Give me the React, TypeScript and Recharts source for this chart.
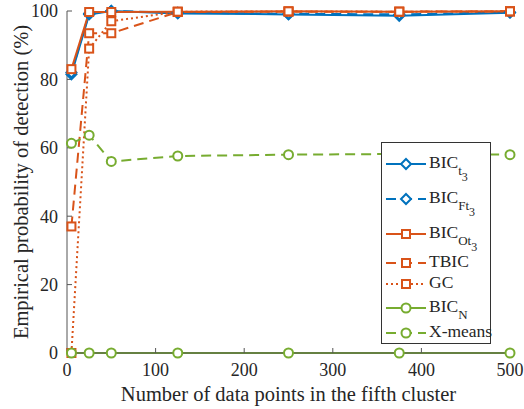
import React from 'react';
import { LineChart, Line, XAxis, YAxis } from 'recharts';

const xs = [5, 25, 50, 125, 250, 375, 500];
const bicT3 = [81.5, 99, 100, 99.3, 99, 98.6, 99.5];
const bicFt3 = [82, 99.3, 100, 99.5, 99.2, 99, 99.6];
const bicOt3 = [83, 99.7, 99.7, 99.8, 99.9, 99.8, 99.9];
const tbic = [37, 93.5, 93.5, 99.7, 99.8, 99.8, 99.9];
const gc = [0, 89, 97, 99.8, 99.9, 99.8, 99.9];
const bicN = [0, 0, 0, 0, 0, 0, 0];
const xMeans = [61.3, 63.7, 56, 57.6, 58, 58.2, 58];

const xTicks = [0, 100, 200, 300, 400, 500];
const yTicks = [0, 20, 40, 60, 80, 100];

const BLUE = '#0072BD';
const ORANGE = '#D95319';
const GREEN = '#77AC30';
const AXIS = '#555';
const FONT = '"Liberation Serif", "Times New Roman", serif';

const data = xs.map((x, i) => ({
  x,
  bicT3: bicT3[i],
  bicFt3: bicFt3[i],
  bicOt3: bicOt3[i],
  tbic: tbic[i],
  gc: gc[i],
  bicN: bicN[i],
  xMeans: xMeans[i],
}));

type Marker = 'diamond' | 'square' | 'circle';

function markerShape(kind: Marker, cx: number, cy: number, color: string, key?: any) {
  if (kind === 'diamond') {
    const r = 5;
    return (
      <path key={key} d={`M${cx},${cy - r}L${cx + r},${cy}L${cx},${cy + r}L${cx - r},${cy}Z`}
        fill="#fff" stroke={color} strokeWidth={2} />
    );
  }
  if (kind === 'square') {
    return <rect key={key} x={cx - 4} y={cy - 4} width={8} height={8} fill="#fff" stroke={color} strokeWidth={2} />;
  }
  return <circle key={key} cx={cx} cy={cy} r={4.5} fill="#fff" stroke={color} strokeWidth={2} />;
}

const dotFor = (kind: Marker, color: string) => (props: any) =>
  markerShape(kind, props.cx, props.cy, color, props.key ?? `${props.index}`);

const series = [
  { key: 'bicT3', color: BLUE, dash: undefined, marker: 'diamond' as Marker, base: 'BIC', sub: 't', subsub: '3' },
  { key: 'bicFt3', color: BLUE, dash: '10 6', marker: 'diamond' as Marker, base: 'BIC', sub: 'Ft', subsub: '3' },
  { key: 'bicOt3', color: ORANGE, dash: undefined, marker: 'square' as Marker, base: 'BIC', sub: 'Ot', subsub: '3' },
  { key: 'tbic', color: ORANGE, dash: '10 6', marker: 'square' as Marker, base: 'TBIC', sub: '', subsub: '' },
  { key: 'gc', color: ORANGE, dash: '2 3', marker: 'square' as Marker, base: 'GC', sub: '', subsub: '' },
  { key: 'bicN', color: GREEN, dash: undefined, marker: 'circle' as Marker, base: 'BIC', sub: 'N', subsub: '' },
  { key: 'xMeans', color: GREEN, dash: '10 6', marker: 'circle' as Marker, base: 'X-means', sub: '', subsub: '' },
];

// vertical centre of each legend row, measured from the top of the box
const rowCentres = [21, 56, 91, 120, 141, 165, 190];

function LegendBox() {
  return (
    <div style={{ position: 'absolute', left: 381, top: 142, width: 110, height: 202, border: '1px solid #333', background: '#fff', boxSizing: 'border-box', fontFamily: FONT, fontSize: 17.5, color: '#262626' }}>
      {series.map((s, i) => (
        <div key={s.key} style={{ position: 'absolute', left: 3, top: rowCentres[i] - 10, height: 20, display: 'flex', alignItems: 'flex-start' }}>
          <svg width={42} height={20} style={{ flex: 'none' }}>
            <line x1={1} y1={10} x2={41} y2={10} stroke={s.color} strokeWidth={2} strokeDasharray={s.dash} />
            {markerShape(s.marker, 21, 10, s.color)}
          </svg>
          <span style={{ lineHeight: '17px', whiteSpace: 'nowrap', marginLeft: 2 }}>
            {s.base}
            {s.sub && (
              <span style={{ position: 'relative', top: 7, fontSize: 13 }}>
                {s.sub}
                {s.subsub && <span style={{ position: 'relative', top: 6, fontSize: 12 }}>{s.subsub}</span>}
              </span>
            )}
          </span>
        </div>
      ))}
    </div>
  );
}

export default function App() {
  const tickStyle = { fill: '#262626', fontSize: 18, fontFamily: FONT };
  return (
    <div style={{ position: 'absolute', left: 0, top: 0, width: 524, height: 409, background: '#fff' }}>
      <LineChart width={524} height={409} data={data} margin={{ top: 11, right: 14, left: 17, bottom: 10 }}>
        <XAxis dataKey="x" type="number" domain={[0, 500]} ticks={xTicks} stroke={AXIS}
          tickSize={-5} tickMargin={15} tick={tickStyle} height={46}
          label={{ value: 'Number of data points in the fifth cluster', position: 'insideBottom', offset: -2, style: { fill: '#262626', fontSize: 20.5, fontFamily: FONT } }} />
        <XAxis xAxisId="top" orientation="top" dataKey="x" type="number" domain={[0, 500]} ticks={xTicks}
          stroke={AXIS} tickSize={-5} tickFormatter={() => ''} height={0} />
        <YAxis type="number" domain={[0, 100]} ticks={yTicks} stroke={AXIS} width={50}
          tickSize={-5} tickMargin={14} tick={tickStyle}
          label={{ value: 'Empirical probability of detection (%)', angle: -90, position: 'insideLeft', offset: 4, style: { textAnchor: 'middle', fill: '#262626', fontSize: 20.5, fontFamily: FONT } }} />
        <YAxis yAxisId="right" orientation="right" type="number" domain={[0, 100]} ticks={yTicks}
          stroke={AXIS} tickSize={-5} tickFormatter={() => ''} width={0} />
        {series.map((s) => (
          <Line key={s.key} type="linear" dataKey={s.key} stroke={s.color} strokeWidth={2}
            strokeDasharray={s.dash} dot={dotFor(s.marker, s.color)} activeDot={false}
            isAnimationActive={false} />
        ))}
      </LineChart>
      <LegendBox />
    </div>
  );
}
